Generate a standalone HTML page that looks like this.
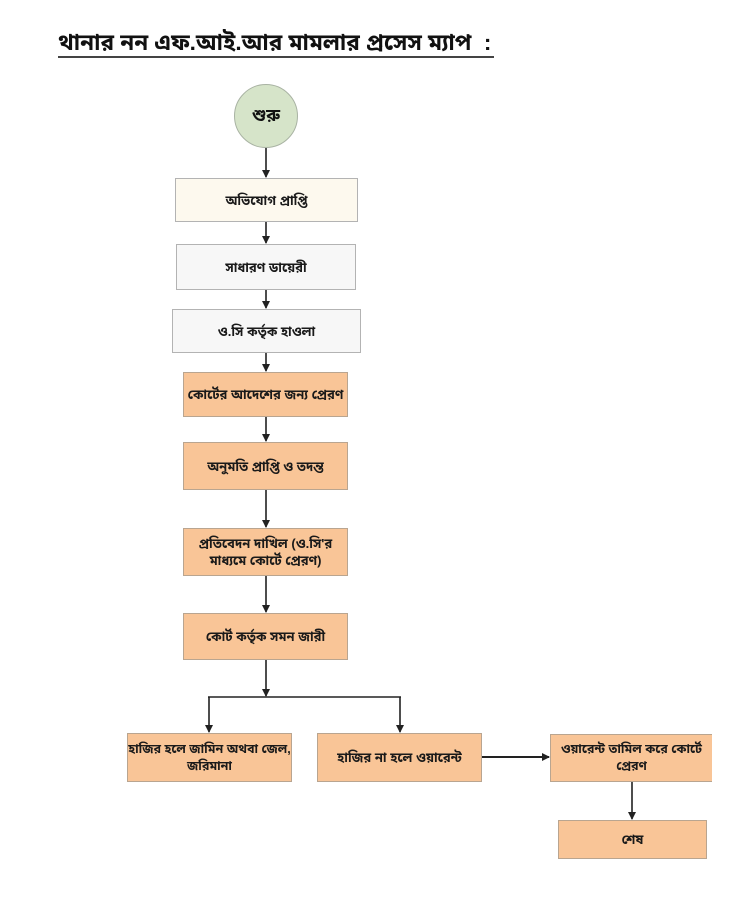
<!DOCTYPE html>
<html>
<head>
<meta charset="utf-8">
<style>
  html,body{margin:0;padding:0;background:#fff;}
  body{width:750px;height:900px;position:relative;overflow:hidden;
       font-family:"Liberation Sans","Noto Sans Bengali","Lohit Bengali","FreeSans",sans-serif;}
  .t{position:absolute;left:58px;top:30px;width:436px;font-size:22.5px;font-weight:bold;color:#111;
     white-space:nowrap;letter-spacing:0px;}
  .ul{position:absolute;left:58px;top:56px;width:436px;height:2px;background:#444;}
  .b{position:absolute;box-sizing:border-box;border:1.5px solid #b3b3b3;display:flex;align-items:center;
     justify-content:center;text-align:center;font-size:13px;font-weight:bold;color:#1a1a1a;line-height:17px;}
  .o{background:#f9c597;border-color:#b9a590;}
  .nw{white-space:nowrap;font-size:12.5px;}
  .circ{position:absolute;left:234px;top:84px;width:64px;height:64px;border-radius:50%;
        background:#d6e4c9;border:1.5px solid #a9b3a3;box-sizing:border-box;display:flex;
        align-items:center;justify-content:center;font-size:17px;font-weight:bold;color:#111;}
  svg{position:absolute;left:0;top:0;}
</style>
</head>
<body>
<div class="t">থানার নন এফ.আই.আর মামলার প্রসেস ম্যাপ&nbsp;&nbsp;:</div>
<div class="ul"></div>

<div class="circ">শুরু</div>

<div class="b" style="left:175px;top:178px;width:183px;height:44px;background:#fdf9ee;">অভিযোগ প্রাপ্তি</div>
<div class="b" style="left:176px;top:244px;width:180px;height:46px;background:#f7f7f7;">সাধারণ ডায়েরী</div>
<div class="b" style="left:172px;top:309px;width:189px;height:44px;background:#f7f7f7;">ও.সি কর্তৃক হাওলা</div>
<div class="b o" style="left:183px;top:372px;width:165px;height:45px;">কোর্টের আদেশের জন্য প্রেরণ</div>
<div class="b o" style="left:183px;top:442px;width:165px;height:48px;">অনুমতি প্রাপ্তি ও তদন্ত</div>
<div class="b o" style="left:183px;top:528px;width:165px;height:48px;">প্রতিবেদন দাখিল (ও.সি'র<br>মাধ্যমে কোর্টে প্রেরণ)</div>
<div class="b o" style="left:183px;top:613px;width:165px;height:47px;">কোর্ট কর্তৃক সমন জারী</div>
<div class="b o nw" style="left:127px;top:733px;width:165px;height:49px;">হাজির হলে জামিন অথবা জেল,<br>জরিমানা</div>
<div class="b o" style="left:317px;top:733px;width:165px;height:49px;">হাজির না হলে ওয়ারেন্ট</div>
<div class="b o nw" style="left:550px;top:734px;width:162px;height:48px;border-right:none;">ওয়ারেন্ট তামিল করে কোর্টে<br>প্রেরণ</div>
<div class="b o" style="left:558px;top:820px;width:149px;height:39px;">শেষ</div>

<svg width="750" height="900" viewBox="0 0 750 900">
  <defs>
    <marker id="ah" markerWidth="8" markerHeight="8" refX="7" refY="4" orient="auto" markerUnits="userSpaceOnUse">
      <path d="M0,0 L8,4 L0,8 Z" fill="#222"/>
    </marker>
  </defs>
  <g stroke="#222" stroke-width="1.6" fill="none">
    <line x1="266" y1="148" x2="266" y2="177" marker-end="url(#ah)"/>
    <line x1="266" y1="222" x2="266" y2="243" marker-end="url(#ah)"/>
    <line x1="266" y1="290" x2="266" y2="308" marker-end="url(#ah)"/>
    <line x1="266" y1="353" x2="266" y2="371" marker-end="url(#ah)"/>
    <line x1="266" y1="417" x2="266" y2="441" marker-end="url(#ah)"/>
    <line x1="266" y1="490" x2="266" y2="527" marker-end="url(#ah)"/>
    <line x1="266" y1="576" x2="266" y2="612" marker-end="url(#ah)"/>
    <line x1="266" y1="660" x2="266" y2="696" marker-end="url(#ah)"/>
    <line x1="208" y1="697" x2="401" y2="697"/>
    <line x1="209" y1="697" x2="209" y2="732" marker-end="url(#ah)"/>
    <line x1="400" y1="697" x2="400" y2="732" marker-end="url(#ah)"/>
    <line x1="482" y1="757" x2="549" y2="757" stroke-width="2" marker-end="url(#ah)"/>
    <line x1="632" y1="782" x2="632" y2="819" marker-end="url(#ah)"/>
  </g>
</svg>
</body>
</html>
